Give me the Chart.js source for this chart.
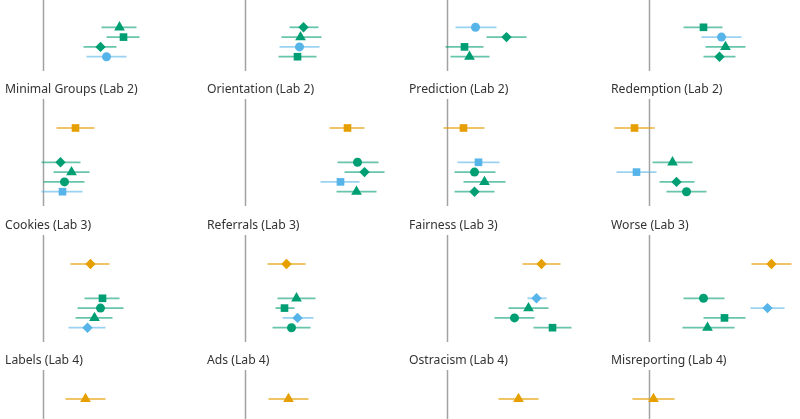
<!DOCTYPE html>
<html><head><meta charset="utf-8">
<script src="https://cdn.jsdelivr.net/npm/chart.js@4.4.1/dist/chart.umd.min.js"></script>
<style>
html,body{margin:0;padding:0;background:#fff;overflow:hidden;width:800px;height:419px;}
#fig{position:relative;width:800px;height:419px;overflow:hidden;background:#fff;}
#fig canvas{position:absolute;}
</style></head><body><div id="fig"></div>
<script>
// ---------------- DATA ----------------
// Panel titles (row 0 titles are outside the visible frame)
const panelTitles = [
  [null, null, null, null],
  ['Minimal Groups (Lab 2)', 'Orientation (Lab 2)', 'Prediction (Lab 2)', 'Redemption (Lab 2)'],
  ['Cookies (Lab 3)', 'Referrals (Lab 3)', 'Fairness (Lab 3)', 'Worse (Lab 3)'],
  ['Labels (Lab 4)', 'Ads (Lab 4)', 'Ostracism (Lab 4)', 'Misreporting (Lab 4)']
];
// Series shown in each panel, listed top to bottom
// O = orange estimate, B = blue estimate, Gt/Gs/Gd/Gc = green estimates
const panelSeries = [
  [['Gt','Gs','Gd','B'], ['Gd','Gt','B','Gs'], ['B','Gd','Gs','Gt'], ['Gs','B','Gt','Gd']],
  [['O','Gd','Gt','Gc','B'], ['O','Gc','Gd','B','Gt'], ['O','B','Gc','Gt','Gd'], ['O','Gt','B','Gd','Gc']],
  [['O','Gs','Gc','Gt','B'], ['O','Gt','Gs','B','Gc'], ['O','B','Gt','Gc','Gs'], ['O','Gc','B','Gs','Gt']],
  [['O'], ['O'], ['O'], ['O']]
];
const estimates = [
  [[0.76, 0.80, 0.57, 0.63], [0.58, 0.55, 0.54, 0.52], [0.28, 0.59, 0.17, 0.22], [0.54, 0.72, 0.76, 0.70]],
  [[0.32, 0.17, 0.28, 0.21, 0.19], [1.02, 1.12, 1.19, 0.95, 1.11], [0.16, 0.31, 0.27, 0.37, 0.27], [-0.15, 0.23, -0.13, 0.27, 0.37]],
  [[0.47, 0.59, 0.57, 0.51, 0.44], [0.41, 0.51, 0.39, 0.52, 0.46], [0.94, 0.89, 0.81, 0.67, 1.05], [1.22, 0.54, 1.18, 0.75, 0.58]],
  [[0.42], [0.43], [0.71], [0.04]]
];
const lowerCI = [
  [[0.58, 0.63, 0.40, 0.43], [0.44, 0.36, 0.34, 0.33], [0.08, 0.39, -0.02, 0.03], [0.34, 0.52, 0.56, 0.54]],
  [[0.13, -0.02, 0.10, 0.00, -0.02], [0.84, 0.92, 0.99, 0.75, 0.91], [-0.04, 0.10, 0.07, 0.16, 0.07], [-0.35, 0.03, -0.33, 0.10, 0.17]],
  [[0.27, 0.41, 0.34, 0.32, 0.25], [0.22, 0.32, 0.30, 0.37, 0.27], [0.75, 0.80, 0.61, 0.47, 0.86], [1.02, 0.34, 1.01, 0.54, 0.33]],
  [[0.22], [0.23], [0.51], [-0.17]]
];
const upperCI = [
  [[0.93, 0.96, 0.73, 0.83], [0.73, 0.76, 0.74, 0.71], [0.49, 0.79, 0.36, 0.42], [0.73, 0.92, 0.96, 0.86]],
  [[0.51, 0.37, 0.46, 0.41, 0.39], [1.19, 1.33, 1.39, 1.14, 1.31], [0.37, 0.52, 0.48, 0.58, 0.47], [0.05, 0.43, 0.07, 0.45, 0.57]],
  [[0.66, 0.76, 0.80, 0.69, 0.62], [0.60, 0.70, 0.49, 0.68, 0.65], [1.13, 0.99, 1.01, 0.87, 1.24], [1.42, 0.75, 1.35, 0.96, 0.85]],
  [[0.62], [0.63], [0.91], [0.25]]
];

// ---------------- STYLE / LAYOUT ----------------
const ORANGE = '#E69F00', BLUE = '#56B4E9', GREEN = '#009E73';
const labShape = ['circle', 'rect', 'rectRot', 'triangle']; // orange/blue marker per row (lab)
const greenShape = { Gt: 'triangle', Gs: 'rect', Gd: 'rectRot', Gc: 'circle' };
const radiusFor = { circle: 4.5, rect: 5.4, rectRot: 5.2, triangle: 6.2 };
const lineAlpha = { O: 'rgba(230,159,0,0.6)', B: 'rgba(86,180,233,0.6)', G: 'rgba(0,158,115,0.6)' };

const COL_LEFT = [5, 207, 409, 611];     // canvas left edge per column
const AREA_TOP = [-36, 99, 235, 370];    // top of plotting area per row
const AREA_H = 107, CANVAS_W = 190, TITLE_H = 21;
const PX_PER_X = 100, ZERO_OFFSET = 38.5;
const PX_PER_ROW = 9.8, TOP_PAD_ROWS = 29 / 9.8, GAP = 3.5;

const zeroLine = {
  id: 'zeroLine',
  beforeDatasetsDraw(chart) {
    const { ctx, chartArea, scales: { x } } = chart;
    const px = x.getPixelForValue(0);
    ctx.save();
    ctx.strokeStyle = '#a2a2a2';
    ctx.lineWidth = 1.5;
    ctx.beginPath();
    ctx.moveTo(px, chartArea.top);
    ctx.lineTo(px, chartArea.bottom);
    ctx.stroke();
    ctx.restore();
  }
};

const fig = document.getElementById('fig');
for (let r = 0; r < 4; r++) {
  for (let c = 0; c < 4; c++) {
    const title = panelTitles[r][c];
    const hasTitle = !!title;
    const h = AREA_H + (hasTitle ? TITLE_H : 0);
    const canvas = document.createElement('canvas');
    canvas.width = CANVAS_W; canvas.height = h;
    canvas.style.width = CANVAS_W + 'px'; canvas.style.height = h + 'px';
    canvas.style.left = COL_LEFT[c] + 'px';
    canvas.style.top = (AREA_TOP[r] - (hasTitle ? TITLE_H : 0)) + 'px';
    fig.appendChild(canvas);

    const datasets = [];
    let k = 0;
    panelSeries[r][c].forEach((key, i) => {
      const isO = key === 'O';
      const yRow = isO ? 0 : GAP + (k++);
      const color = isO ? ORANGE : key === 'B' ? BLUE : GREEN;
      const shape = (isO || key === 'B') ? labShape[r] : greenShape[key];
      const lc = isO ? lineAlpha.O : key === 'B' ? lineAlpha.B : lineAlpha.G;
      datasets.push({
        label: key + ' CI',
        data: [{ x: lowerCI[r][c][i], y: yRow }, { x: upperCI[r][c][i], y: yRow }],
        showLine: true, borderColor: lc, borderWidth: 1.8, pointRadius: 0,
        clip: false, order: 1
      });
      datasets.push({
        label: key,
        data: [{ x: estimates[r][c][i], y: yRow }],
        pointStyle: shape, pointRadius: radiusFor[shape], pointHoverRadius: radiusFor[shape],
        backgroundColor: color, borderColor: color, borderWidth: 0,
        clip: false, order: 0
      });
    });

    const xMin = -ZERO_OFFSET / PX_PER_X;
    const yMin = -TOP_PAD_ROWS;
    new Chart(canvas, {
      type: 'scatter',
      data: { datasets },
      options: {
        responsive: false, animation: false, devicePixelRatio: window.devicePixelRatio || 1,
        layout: { padding: 0, autoPadding: false },
        scales: {
          x: { type: 'linear', display: false, min: xMin, max: xMin + CANVAS_W / PX_PER_X },
          y: { type: 'linear', display: false, reverse: true, min: yMin, max: yMin + AREA_H / PX_PER_ROW }
        },
        plugins: {
          legend: { display: false },
          tooltip: { enabled: false },
          title: {
            display: hasTitle, text: title || '', align: 'start', color: '#333333',
            font: { family: "'Noto Sans', 'DejaVu Sans', sans-serif", size: 12.2, weight: 'normal', lineHeight: 1.31 },
            padding: { top: 4, bottom: 1 }
          }
        }
      },
      plugins: [zeroLine]
    });
  }
}
</script></body></html>
